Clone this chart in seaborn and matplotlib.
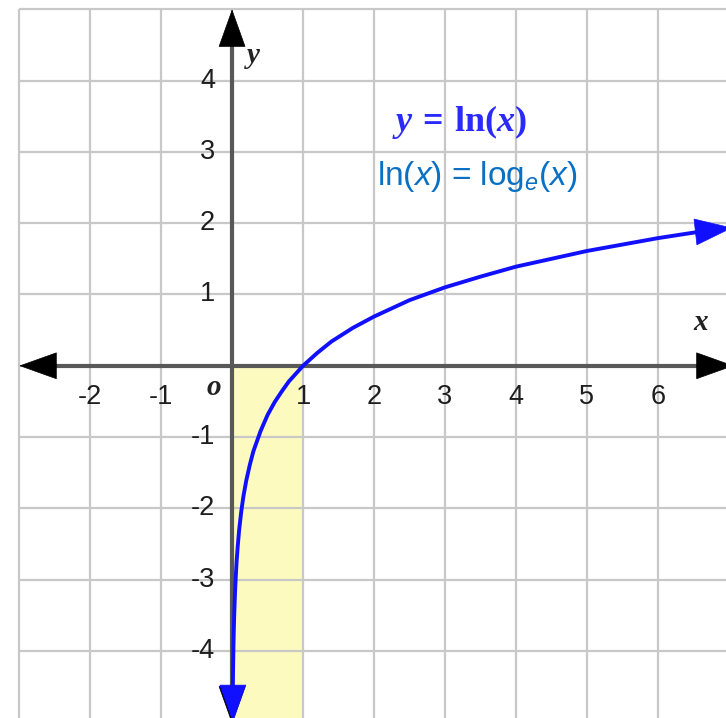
import numpy as np
import pandas as pd
import seaborn as sns
import matplotlib.pyplot as plt

# ---- data ----
curve_x = [0.0105, 0.013, 0.016, 0.02, 0.025, 0.03, 0.04, 0.05, 0.065, 0.08, 0.1, 0.13,
           0.16, 0.2, 0.25, 0.3, 0.4, 0.5, 0.6, 0.7, 0.8, 0.9, 1.0, 1.2, 1.4, 1.7, 2.0,
           2.5, 3.0, 3.5, 4.0, 4.5, 5.0, 5.5, 6.0, 6.65]
curve_y = [-4.56, -4.34, -4.14, -3.91, -3.69, -3.51, -3.22, -3.0, -2.73, -2.53, -2.3,
           -2.04, -1.83, -1.61, -1.39, -1.2, -0.92, -0.69, -0.51, -0.36, -0.22, -0.11,
           0.0, 0.18, 0.34, 0.53, 0.69, 0.92, 1.1, 1.25, 1.39, 1.5, 1.61, 1.7, 1.79, 1.89]
x_tick_vals = [-2, -1, 1, 2, 3, 4, 5, 6]
x_tick_labels = ['-2', '-1', '1', '2', '3', '4', '5', '6']
y_tick_vals = [4, 3, 2, 1, -1, -2, -3, -4]
y_tick_labels = ['4', '3', '2', '1', '-1', '-2', '-3', '-4']
shade_x = [0, 1]
grid_x = [-3, -2, -1, 0, 1, 2, 3, 4, 5, 6]
grid_y = [-4, -3, -2, -1, 0, 1, 2, 3, 4, 5]
title_text = r'$\mathbfit{y}\mathbf{\,=\,ln(}\mathbfit{x}\mathbf{)}$'
sub_text = r'ln($x$) = log$_e$($x$)'

df = pd.DataFrame({'x': curve_x, 'y': curve_y})

sns.set_theme(style='white')
plt.rcParams['font.family'] = ['Liberation Sans', 'DejaVu Sans']
plt.rcParams['mathtext.fontset'] = 'custom'
plt.rcParams['mathtext.rm'] = 'Liberation Sans'
plt.rcParams['mathtext.it'] = 'Liberation Sans:italic'
plt.rcParams['mathtext.bf'] = 'Liberation Serif:bold'
plt.rcParams['mathtext.bfit'] = 'Liberation Serif:italic:bold'

fig = plt.figure(figsize=(7.26, 7.18), dpi=100)
ax = fig.add_axes([0, 0, 1, 1])
XMIN, XMAX, YMIN, YMAX = -3.27, 6.96, -4.94, 5.13
ax.set_xlim(XMIN, XMAX)
ax.set_ylim(YMIN, YMAX)
ax.axis('off')

# shading and grid
ax.fill_between(shade_x, YMIN, 0, color='#fdfac0', lw=0, zorder=0.5)
ax.vlines(grid_x, YMIN, max(grid_y), color='#c8c8c8', lw=1.6, zorder=1)
ax.hlines(grid_y, min(grid_x), XMAX, color='#c8c8c8', lw=1.6, zorder=1)

# axes lines
axis_col = '#585858'
ax.plot([-2.7, XMAX], [0, 0], color=axis_col, lw=3, zorder=2, solid_capstyle='butt')
ax.plot([0, 0], [YMIN, 4.7], color=axis_col, lw=3, zorder=2, solid_capstyle='butt')

def head(tip, base, color, z):
    ax.annotate('', xy=tip, xytext=base,
                arrowprops=dict(arrowstyle='-|>,head_length=26,head_width=9.3',
                                mutation_scale=1, color=color, lw=0.5,
                                shrinkA=0, shrinkB=0),
                zorder=z, annotation_clip=False)

head((-3.0, 0), (-2.48, 0), 'black', 3)
head((7.07, 0), (6.55, 0), 'black', 3)
head((0, 5.0), (0, 4.5), 'black', 3)
head((0.0, -5.02), (0.0, -4.52), 'black', 3)

# curve
sns.lineplot(data=df, x='x', y='y', ax=ax, color='#1010ff', lw=2.8, zorder=4,
             sort=False, estimator=None)
head((7.05, 1.935), (6.6, 1.885), '#1010ff', 5)
head((0.012, -5.0), (0.012, -4.52), '#1010ff', 5)

# tick labels
for v, t in zip(x_tick_vals, x_tick_labels):
    ax.text(v, -0.44, t, ha='center', va='center', fontsize=19.5, color='#1e1e1e', zorder=6)
for v, t in zip(y_tick_vals, y_tick_labels):
    ax.text(-0.24, v, t, ha='right', va='center', fontsize=19.5, color='#1e1e1e', zorder=6)

lab_kw = dict(family='Liberation Serif', style='italic', weight='bold',
              fontsize=21, color='#222222', ha='center', va='center', zorder=6)
ax.text(-0.25, -0.3, 'o', **lab_kw)
ax.text(0.3, 4.35, 'y', **lab_kw)
ax.text(6.6, 0.6, 'x', **lab_kw)

ax.text(3.21, 3.42, title_text, color='#2a2aff', fontsize=26, ha='center', va='center', zorder=6)
ax.text(3.46, 2.66, sub_text, color='#0a70c4', fontsize=24, ha='center', va='center', zorder=6)

fig.savefig('out.png', dpi=100)
